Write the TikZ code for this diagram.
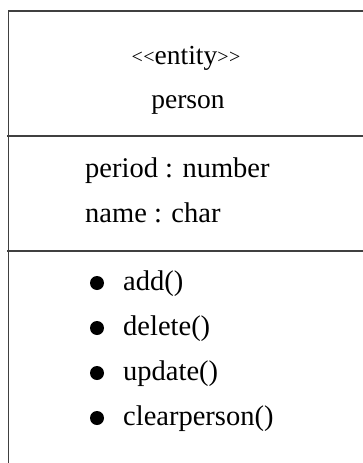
\documentclass[tikz,border=0pt]{standalone}
\usepackage{fontspec}
\setmainfont{Liberation Serif}
\usetikzlibrary{positioning}

\tikzset{
  frameline/.style={line width=1.4pt, draw=black!75},
  title/.style={font=\fontsize{27.5}{32}\selectfont, inner sep=0pt, anchor=base},
  member/.style={font=\fontsize{28.5}{34}\selectfont, inner sep=0pt, anchor=base west},
  bulletdot/.style={circle, fill=black, inner sep=0pt, minimum size=14pt}
}
\newcommand{\chev}[1]{\raisebox{1pt}{\fontsize{20}{20}\selectfont#1\kern0.5pt#1}}

\begin{document}
\begin{tikzpicture}[x=1pt, y=-1pt]
 \useasboundingbox (0,0) rectangle (363,463);
 % frame, open on the right and at the bottom
 \draw[frameline] (363,11) -- (8.5,11) -- (8.5,463);
 \draw[frameline] (7,136) -- (363,136);
 \draw[frameline] (7,251) -- (363,251);

 % name compartment
 \node[title] (stereo) at (186,64) {\chev{<}entity\chev{>}};
 \node[title] (name) at (188,108) {person};

 % attributes
 \node[member] (period) at (85,177) {period : number};
 \node[member] (cname) at (85,222) {name : char};

 % operations
 \node[member] (add) at (123,290) {add()};
 \node[member] (delete) at (123,335) {delete()};
 \node[member] (update) at (123,380) {update()};
 \node[member] (clear) at (123,425) {clearperson()};
 \foreach \op in {add,delete,update,clear}
   \node[bulletdot] (dot-\op) at ([xshift=-26pt,yshift=7pt]\op.base west) {};
\end{tikzpicture}
\end{document}
